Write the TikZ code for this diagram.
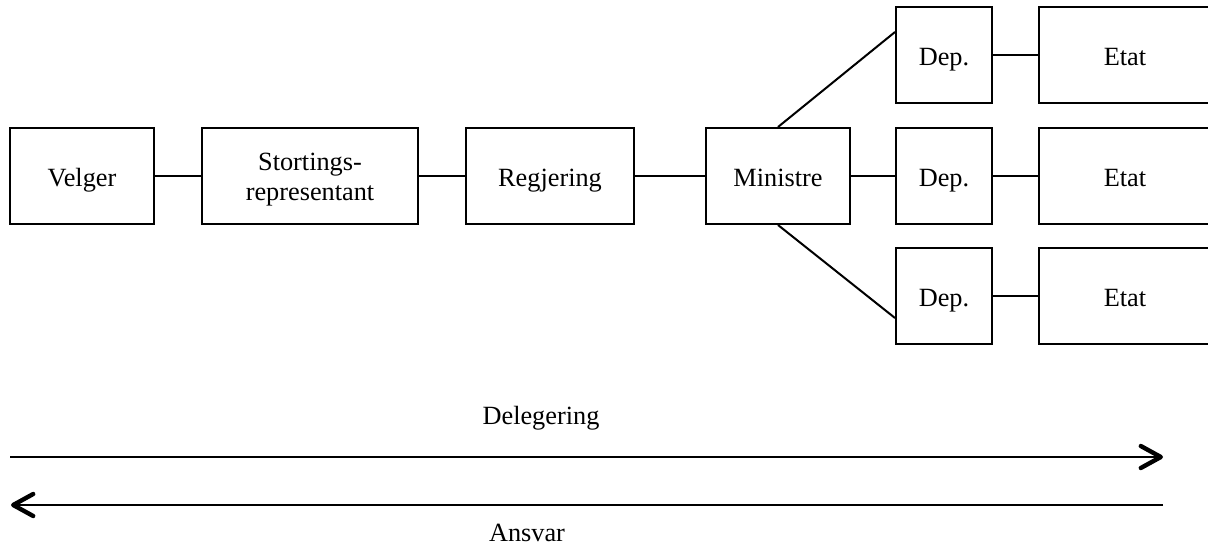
\documentclass[tikz,border=0pt]{standalone}
\usepackage{fontspec}
\setmainfont{Liberation Serif}
\usetikzlibrary{arrows.meta}
\begin{document}
\begin{tikzpicture}[x=0.5pt,y=-0.5pt,
  box/.style={draw,line width=1pt,minimum height=48pt,inner sep=0pt,
    align=center,text height=10.5pt,text depth=0pt,
    font=\fontsize{13.15}{15}\selectfont},
  twoline/.style={text height=24pt,text depth=0pt},
  link/.style={line width=1pt},
  flow/.style={line width=1.1pt,-{Straight Barb[length=10pt,width=11pt,line width=2.2pt,round]}},
  lbl/.style={anchor=base,inner sep=0pt,font=\fontsize{13.15}{15}\selectfont}]
\useasboundingbox (0,0) rectangle (1208,546);
\clip (0,0) rectangle (1208,546);

% chain of delegation
\node[box,minimum width=72pt]  (velger) at (82,176)  {Velger};
\node[box,twoline,minimum width=108pt] (storting) at (310,176) {Stortings-\\representant};
\node[box,minimum width=84pt]  (regjering) at (550,176) {Regjering};
\node[box,minimum width=72pt]  (ministre) at (778,176) {Ministre};

% departments and agencies
\node[box,minimum width=48pt] (dep1) at (944,55)  {Dep.};
\node[box,minimum width=48pt] (dep2) at (944,176) {Dep.};
\node[box,minimum width=48pt] (dep3) at (944,296) {Dep.};
\node[box,minimum width=86pt] (etat1) at (1125,55)  {Etat};
\node[box,minimum width=86pt] (etat2) at (1125,176) {Etat};
\node[box,minimum width=86pt] (etat3) at (1125,296) {Etat};

\draw[link] (velger) -- (storting);
\draw[link] (storting) -- (regjering);
\draw[link] (regjering) -- (ministre);
\draw[link] (ministre) -- (dep2);
\draw[link] (ministre.north) -- ([yshift=11.5pt]dep1.west);
\draw[link] (ministre.south) -- ([yshift=-11pt]dep3.west);
\draw[link] (dep1) -- (etat1);
\draw[link] (dep2) -- (etat2);
\draw[link] (dep3) -- (etat3);

% delegation and accountability arrows
\coordinate (dstart) at (10,457);
\coordinate (dend) at (1163,457);
\coordinate (astart) at (1163,505);
\coordinate (aend) at (11,505);
\draw[flow] (dstart) -- (dend);
\draw[flow] (astart) -- (aend);
\node[lbl] (deleg) at (541,424) {Delegering};
\node[lbl] (ansvar) at (527,541) {Ansvar};
\end{tikzpicture}
\end{document}
